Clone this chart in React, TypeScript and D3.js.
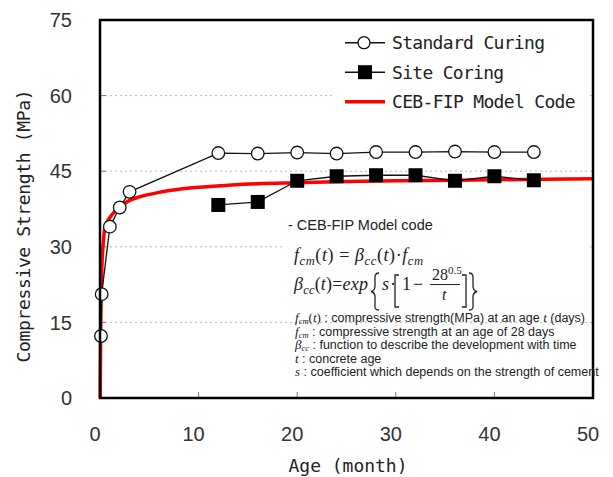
import * as d3 from 'd3';
import React, { useEffect, useRef } from 'react';

// Age (month) / compressive strength (MPa)
const standardAge = [0.1, 0.17, 1, 2, 3, 12, 16, 20, 24, 28, 32, 36, 40, 44];
const standardStrength = [12.3, 20.6, 34.0, 37.8, 40.9, 48.6, 48.5, 48.7, 48.5, 48.8, 48.8, 48.9, 48.8, 48.8];

const siteAge = [12, 16, 20, 24, 28, 32, 36, 40, 44];
const siteStrength = [38.3, 38.9, 43.1, 44.0, 44.2, 44.2, 43.1, 44.0, 43.2];

// CEB-FIP model curve
const modelAge = [0.02, 0.04, 0.07, 0.1, 0.12, 0.16, 0.22, 0.3, 0.5, 0.75, 1, 1.5, 2, 3, 4, 6, 8, 10, 13, 16, 20, 25, 30, 40, 50];
const modelStrength = [0, 6, 13, 18, 20.5, 24, 27.5, 30, 33.8, 35, 35.8, 37, 37.9, 39.2, 39.9, 40.8, 41.4, 41.8, 42.2, 42.5, 42.7, 42.95, 43.1, 43.3, 43.5];

const xTicks = [0, 10, 20, 30, 40, 50];
const yTicks = [0, 15, 30, 45, 60, 75];

const legendLabels = ['Standard Curing', 'Site Coring', 'CEB-FIP Model Code'];

const W = 613;
const H = 477;
const margin = { top: 20, right: 20, bottom: 79, left: 100 };

const mono = '"DejaVu Sans Mono", "Liberation Mono", monospace';
const sans = '"Liberation Sans", Arial, sans-serif';
const serif = '"Liberation Serif", "Times New Roman", serif';

const Chart = () => {
    const ref = useRef<SVGSVGElement>(null);

    useEffect(() => {
        const svg = d3.select(ref.current);
        svg.selectAll('*').remove();

        const width = W - margin.left - margin.right;
        const height = H - margin.top - margin.bottom;

        const x = d3.scaleLinear().domain([0, 50]).range([margin.left, margin.left + width]);
        const y = d3.scaleLinear().domain([0, 75]).range([margin.top + height, margin.top]);

        // grid lines
        svg.append('g')
            .selectAll('line')
            .data(yTicks.filter(d => d > 0 && d < 75))
            .enter()
            .append('line')
            .attr('x1', x(0)).attr('x2', x(50))
            .attr('y1', d => y(d)).attr('y2', d => y(d))
            .attr('stroke', '#b8b8b8')
            .attr('stroke-width', 1)
            .attr('stroke-dasharray', '2,3');

        // inner ticks
        svg.append('g')
            .selectAll('line')
            .data(xTicks.filter(d => d > 0 && d < 50))
            .enter()
            .append('line')
            .attr('x1', d => x(d)).attr('x2', d => x(d))
            .attr('y1', y(0)).attr('y2', y(0) - 6)
            .attr('stroke', '#777');
        svg.append('g')
            .selectAll('line')
            .data(yTicks.filter(d => d > 0 && d < 75))
            .enter()
            .append('line')
            .attr('x1', x(0)).attr('x2', x(0) + 6)
            .attr('y1', d => y(d)).attr('y2', d => y(d))
            .attr('stroke', '#777');

        // tick labels
        svg.append('g')
            .selectAll('text')
            .data(yTicks)
            .enter()
            .append('text')
            .attr('x', margin.left - 28)
            .attr('y', d => y(d))
            .attr('dy', '0.36em')
            .attr('text-anchor', 'end')
            .style('font-family', sans)
            .style('font-size', '20px')
            .style('fill', '#333')
            .text(d => d);
        svg.append('g')
            .selectAll('text')
            .data(xTicks)
            .enter()
            .append('text')
            .attr('x', d => x(d) - 5)
            .attr('y', y(0) + 36)
            .attr('dy', '0.36em')
            .attr('text-anchor', 'middle')
            .style('font-family', sans)
            .style('font-size', '20px')
            .style('fill', '#333')
            .text(d => d);

        // axis titles
        svg.append('text')
            .attr('transform', 'translate(24,226) rotate(-90)')
            .attr('text-anchor', 'middle')
            .attr('dy', '0.36em')
            .attr('textLength', 273)
            .attr('lengthAdjust', 'spacing')
            .style('font-family', mono)
            .style('font-size', '18px')
            .style('fill', '#222')
            .text('Compressive Strength (MPa)');
        svg.append('text')
            .attr('x', 348)
            .attr('y', 466)
            .attr('dy', '0.36em')
            .attr('text-anchor', 'middle')
            .attr('textLength', 119)
            .attr('lengthAdjust', 'spacing')
            .style('font-family', mono)
            .style('font-size', '18px')
            .style('fill', '#222')
            .text('Age (month)');

        // white backgrounds for legend and formula
        svg.append('rect').attr('x', 335).attr('y', 28).attr('width', 252).attr('height', 86).attr('fill', '#fff');
        svg.append('rect').attr('x', 283).attr('y', 212).attr('width', 307).attr('height', 104).attr('fill', '#fff');

        // model curve
        const model = modelAge.map((a, i) => [a, modelStrength[i]] as [number, number]);
        svg.append('path')
            .datum(model)
            .attr('fill', 'none')
            .attr('stroke', '#ff0000')
            .attr('stroke-width', 3.5)
            .attr('d', d3.line<[number, number]>().x(d => x(d[0])).y(d => y(d[1])).curve(d3.curveMonotoneX));

        const std = standardAge.map((a, i) => [a, standardStrength[i]] as [number, number]);
        const site = siteAge.map((a, i) => [a, siteStrength[i]] as [number, number]);
        const line = d3.line<[number, number]>().x(d => x(d[0])).y(d => y(d[1]));

        svg.append('path').datum(site).attr('fill', 'none').attr('stroke', '#111').attr('stroke-width', 1.3).attr('d', line);
        svg.append('path').datum(std).attr('fill', 'none').attr('stroke', '#111').attr('stroke-width', 1.3).attr('d', line);

        svg.append('g')
            .selectAll('rect')
            .data(site)
            .enter()
            .append('rect')
            .attr('x', d => x(d[0]) - 7).attr('y', d => y(d[1]) - 7)
            .attr('width', 14).attr('height', 14)
            .attr('fill', '#000');
        svg.append('g')
            .selectAll('circle')
            .data(std)
            .enter()
            .append('circle')
            .attr('cx', d => x(d[0])).attr('cy', d => y(d[1]))
            .attr('r', 6.3)
            .attr('fill', '#fff')
            .attr('stroke', '#111')
            .attr('stroke-width', 1.3);

        // frame
        svg.append('rect')
            .attr('x', x(0)).attr('y', y(75))
            .attr('width', width).attr('height', height)
            .attr('fill', 'none')
            .attr('stroke', '#000')
            .attr('stroke-width', 2.5);

        // legend
        const lg = svg.append('g');
        legendLabels.forEach((label, i) => {
            const ly = 42.7 + i * 29.5;
            if (i < 2) {
                lg.append('line').attr('x1', 345).attr('x2', 385).attr('y1', ly).attr('y2', ly).attr('stroke', '#111').attr('stroke-width', 1.5);
            } else {
                lg.append('line').attr('x1', 345).attr('x2', 385).attr('y1', ly).attr('y2', ly).attr('stroke', '#ff0000').attr('stroke-width', 3.5);
            }
            if (i === 0) {
                lg.append('circle').attr('cx', 364).attr('cy', ly).attr('r', 6).attr('fill', '#fff').attr('stroke', '#111').attr('stroke-width', 1.3);
            }
            if (i === 1) {
                lg.append('rect').attr('x', 358).attr('y', ly - 7).attr('width', 14).attr('height', 14).attr('fill', '#000');
            }
            lg.append('text')
                .attr('x', 392).attr('y', ly)
                .attr('dy', '0.36em')
                .attr('textLength', label.length * 10.2)
                .attr('lengthAdjust', 'spacing')
                .style('font-family', mono)
                .style('font-size', '18px')
                .style('fill', '#222')
                .text(label);
        });

        // formula box
        const fg = svg.append('g').style('fill', '#222');
        fg.append('text')
            .attr('x', 288).attr('y', 230)
            .style('font-family', sans).style('font-size', '14.5px')
            .text('- CEB-FIP Model code');

        const part = (t: any, s: string, opts: { italic?: boolean; sub?: boolean; size?: number; fam?: string } = {}) => {
            const ts = t.append('tspan').text(s);
            if (opts.italic) ts.style('font-style', 'italic');
            if (opts.size) ts.style('font-size', opts.size + 'px');
            if (opts.fam) ts.style('font-family', opts.fam);
            if (opts.sub) ts.attr('dy', 4);
            return ts;
        };
        const f1 = fg.append('text').attr('x', 294).attr('y', 261)
            .attr('textLength', 129).attr('lengthAdjust', 'spacing')
            .style('font-family', serif).style('font-size', '18px');
        part(f1, 'f', { italic: true });
        part(f1, 'cm', { italic: true, sub: true, size: 12.5 });
        part(f1, '(').attr('dy', -4);
        part(f1, 't', { italic: true });
        part(f1, ') = ');
        part(f1, 'β', { italic: true });
        part(f1, 'cc', { italic: true, sub: true, size: 12.5 });
        part(f1, '(').attr('dy', -4);
        part(f1, 't', { italic: true });
        part(f1, ')·');
        part(f1, 'f', { italic: true });
        part(f1, 'cm', { italic: true, sub: true, size: 12.5 });

        const base2 = 290;
        const f2 = fg.append('text').attr('x', 294).attr('y', base2)
            .attr('textLength', 74).attr('lengthAdjust', 'spacing')
            .style('font-family', serif).style('font-size', '18px');
        part(f2, 'β', { italic: true });
        part(f2, 'cc', { italic: true, sub: true, size: 12.5 });
        part(f2, '(').attr('dy', -4);
        part(f2, 't', { italic: true });
        part(f2, ')=');
        part(f2, 'exp', { italic: true });

        const glyph = (s: string, gx: number, gy: number, size: number, italic = false) => {
            fg.append('text').attr('x', gx).attr('y', gy)
                .style('font-family', serif).style('font-size', size + 'px')
                .style('font-style', italic ? 'italic' : 'normal')
                .text(s);
        };
        const stroke = (d: string) => {
            fg.append('path').attr('d', d).attr('fill', 'none').attr('stroke', '#222').attr('stroke-width', 1.3);
        };
        // curly braces and brackets
        stroke('M379,273 C374,273 375,277 375,282 L375,286 C375,290 373,291 371,291.5 C373,292 375,293 375,297 L375,302 C375,307 374,310 379,310');
        stroke('M469,273 C474,273 473,277 473,282 L473,286 C473,290 475,291 477,291.5 C475,292 473,293 473,297 L473,302 C473,307 474,310 469,310');
        stroke('M399,275 L395,275 L395,307 L399,307');
        stroke('M462,275 L466,275 L466,307 L462,307');
        glyph('s', 382, base2, 18, true);
        glyph('·', 390, base2, 18);
        glyph('1', 402, base2, 18);
        glyph('−', 413, base2, 18);
        const num = fg.append('text').attr('x', 432).attr('y', 280).style('font-family', serif).style('font-size', '16px');
        num.append('tspan').text('28');
        num.append('tspan').attr('dy', -6).style('font-size', '11px').text('0.5');
        fg.append('line').attr('x1', 430).attr('x2', 460).attr('y1', 284.5).attr('y2', 284.5).attr('stroke', '#222').attr('stroke-width', 1);
        glyph('t', 442, 300, 16, true);

        // definitions
        const defs = [
            { sym: 'f', sub: 'cm', extra: true, rest: ' : compressive strength(MPa) at an age ', tail: true },
            { sym: 'f', sub: 'cm', extra: false, rest: ' : compressive strength at an age of 28 days', tail: false },
            { sym: 'β', sub: 'cc', extra: false, rest: ' : function to describe the development with time', tail: false },
            { sym: 't', sub: '', extra: false, rest: ' : concrete age', tail: false },
            { sym: 's', sub: '', extra: false, rest: ' : coefficient which depends on the strength of cement', tail: false },
        ];
        defs.forEach((d, i) => {
            const t = fg.append('text')
                .attr('x', 295).attr('y', 322 + i * 13.5)
                .style('font-family', sans).style('font-size', '12.5px');
            part(t, d.sym, { italic: true, fam: serif, size: 13 });
            if (d.sub) part(t, d.sub, { italic: true, fam: serif, size: 8.5 }).attr('dy', 2);
            if (d.extra) {
                part(t, '(', { fam: serif, size: 13 }).attr('dy', -2);
                part(t, 't', { italic: true, fam: serif, size: 13 });
                part(t, ')', { fam: serif, size: 13 });
            }
            const r = part(t, d.rest);
            if (d.sub && !d.extra) r.attr('dy', -2);
            if (d.tail) {
                part(t, 't', { italic: true, fam: serif, size: 13 });
                part(t, ' (days)');
            }
        });
    }, []);

    return <svg ref={ref} width={W} height={H} style={{ position: 'absolute', left: 0, top: 0, background: '#fff' }} />;
};

export default function App() {
    return <Chart />;
}
